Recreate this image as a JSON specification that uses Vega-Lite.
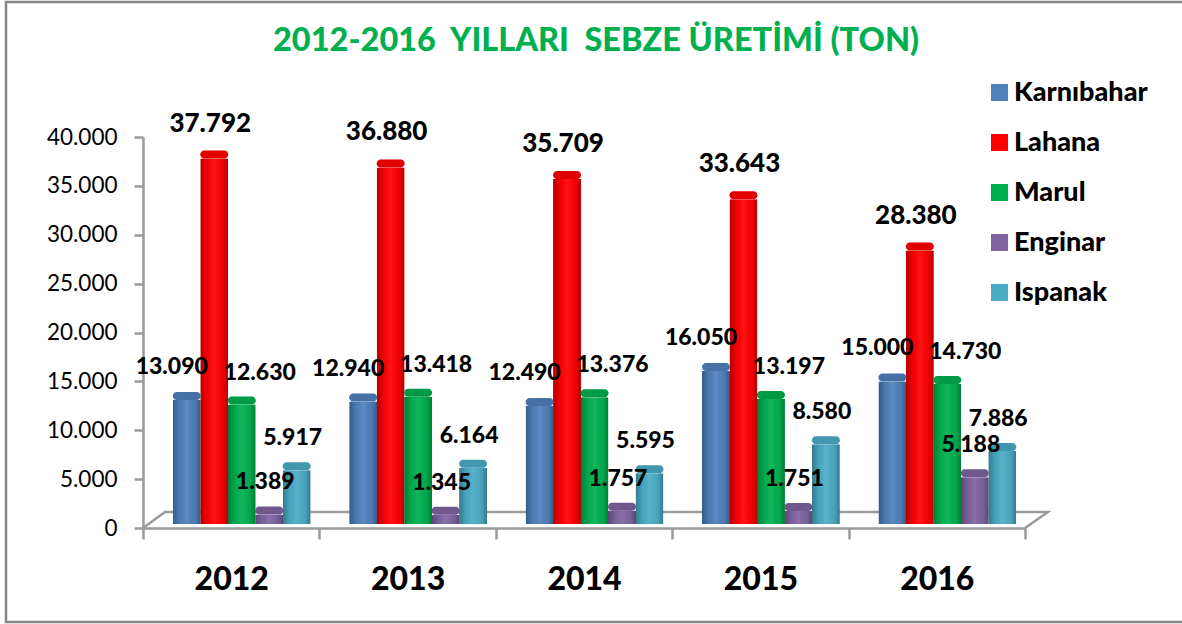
{"$schema":"https://vega.github.io/schema/vega-lite/v6.json","width":1190,"height":620,"padding":{"left":6,"top":2,"right":0,"bottom":2},"autosize":"none","background":"white",
"title":{"text":"2012-2016\u00a0\u00a0YILLARI\u00a0\u00a0SEBZE ÜRETİMİ (TON)","color":"#00B050","font":"Lato","fontWeight":900,"fontSize":32.5,"anchor":"start","dx":267,"offset":-55,"frame":"group"},
"config":{"view":{"stroke":"#868686","strokeWidth":2.5},"font":"Lato"},
"datasets":{"veg":[
{"y":"2012","s":"Karnıbahar","v":13090,"l":"13.090"},{"y":"2012","s":"Lahana","v":37792,"l":"37.792"},{"y":"2012","s":"Marul","v":12630,"l":"12.630"},{"y":"2012","s":"Enginar","v":1389,"l":"1.389"},{"y":"2012","s":"Ispanak","v":5917,"l":"5.917"},
{"y":"2013","s":"Karnıbahar","v":12940,"l":"12.940"},{"y":"2013","s":"Lahana","v":36880,"l":"36.880"},{"y":"2013","s":"Marul","v":13418,"l":"13.418"},{"y":"2013","s":"Enginar","v":1345,"l":"1.345"},{"y":"2013","s":"Ispanak","v":6164,"l":"6.164"},
{"y":"2014","s":"Karnıbahar","v":12490,"l":"12.490"},{"y":"2014","s":"Lahana","v":35709,"l":"35.709"},{"y":"2014","s":"Marul","v":13376,"l":"13.376"},{"y":"2014","s":"Enginar","v":1757,"l":"1.757"},{"y":"2014","s":"Ispanak","v":5595,"l":"5.595"},
{"y":"2015","s":"Karnıbahar","v":16050,"l":"16.050"},{"y":"2015","s":"Lahana","v":33643,"l":"33.643"},{"y":"2015","s":"Marul","v":13197,"l":"13.197"},{"y":"2015","s":"Enginar","v":1751,"l":"1.751"},{"y":"2015","s":"Ispanak","v":8580,"l":"8.580"},
{"y":"2016","s":"Karnıbahar","v":15000,"l":"15.000"},{"y":"2016","s":"Lahana","v":28380,"l":"28.380"},{"y":"2016","s":"Marul","v":14730,"l":"14.730"},{"y":"2016","s":"Enginar","v":5188,"l":"5.188"},{"y":"2016","s":"Ispanak","v":7886,"l":"7.886"}],
"floor":[{"i":0,"fx":0,"fy":0},{"i":1,"fx":2.5,"fy":1640},{"i":2,"fx":102.6,"fy":1640},{"i":3,"fx":100,"fy":0}]},
"resolve":{"scale":{"x":"independent"}},
"layer":[
{"data":{"name":"floor"},"mark":{"type":"line","color":"#9a9a9a","strokeWidth":2.5,"clip":false},"encoding":{"order":{"field":"i","type":"ordinal"},"x":{"field":"fx","type":"quantitative","scale":{"domain":[0,100],"range":[137,1019],"nice":false,"zero":false},"axis":null},"y":{"field":"fy","type":"quantitative","scale":{"domain":[0,40000],"range":[526,135],"nice":false},"axis":{"title":null,"offset":-137,"values":[0,5000,10000,15000,20000,25000,30000,35000,40000],"labelExpr":"replace(format(datum.value,','),',','.')","labelFont":"Lato","labelFontSize":22.5,"labelColor":"black","labelPadding":17,"grid":false,"domainColor":"#9a9a9a","domainWidth":2.5,"tickColor":"#9a9a9a","tickWidth":2.5,"tickSize":9}}}},
{"data":{"name":"veg"},
"encoding":{"x":{"field":"y","type":"nominal","scale":{"range":[137,1019],"paddingInner":0,"paddingOuter":0},"axis":{"title":null,"offset":-94,"labelAngle":0,"labelFont":"Lato","labelFontWeight":900,"labelFontSize":32,"labelColor":"black","labelPadding":25,"domainColor":"#9a9a9a","domainWidth":2.5,"tickColor":"#9a9a9a","tickWidth":2.5,"tickSize":11,"tickBand":"extent"}},
"xOffset":{"field":"s","sort":["Karnıbahar","Lahana","Marul","Enginar","Ispanak"],"scale":{"paddingInner":0,"paddingOuter":0.71,"align":0.77}},
"y":{"field":"v","type":"quantitative"}},
"layer":[
{"mark":{"type":"bar","width":28,"yOffset":-4,"cornerRadiusBottomLeft":5,"cornerRadiusBottomRight":5,"stroke":null},"encoding":{"color":{"field":"s","type":"nominal","scale":{"domain":["Karnıbahar","Lahana","Marul","Enginar","Ispanak"],"range":["#4F81BD","#FF0000","#00B050","#8064A2","#4BACC6"]},"legend":{"title":null,"orient":"none","legendX":980,"legendY":77,"labelFont":"Lato","labelFontWeight":900,"labelFontSize":27,"labelColor":"black","symbolType":"square","symbolSize":289,"symbolOpacity":1,"symbolStrokeWidth":0,"rowPadding":22,"labelOffset":1}}}},
{"mark":{"type":"bar","width":28,"yOffset":-4,"cornerRadiusBottomLeft":5,"cornerRadiusBottomRight":5,"stroke":null,"fill":{"gradient":"linear","x1":0,"y1":0,"x2":1,"y2":0,"stops":[{"offset":0,"color":"rgba(0,0,0,0.3)"},{"offset":0.25,"color":"rgba(0,0,0,0.05)"},{"offset":0.5,"color":"rgba(255,255,255,0.08)"},{"offset":0.8,"color":"rgba(0,0,0,0.05)"},{"offset":1,"color":"rgba(0,0,0,0.3)"}]}}},
{"mark":{"type":"tick","size":28,"thickness":8,"yOffset":-4,"cornerRadius":4,"opacity":1,"stroke":null},"encoding":{"color":{"field":"s","type":"nominal"}}},
{"mark":{"type":"tick","size":28,"thickness":8,"yOffset":-4,"cornerRadius":4,"color":"black","opacity":0.12,"stroke":null}},
{"transform":[{"filter":"datum.s==='Karnıbahar'"}],"mark":{"type":"text","fontWeight":900,"fontSize":23,"font":"Lato","dy":-33,"dx":-15,"color":"black"},"encoding":{"text":{"field":"l","type":"nominal"}}},
{"transform":[{"filter":"datum.s==='Lahana'"}],"mark":{"type":"text","fontWeight":900,"fontSize":26,"font":"Lato","dy":-35,"dx":-4,"color":"black"},"encoding":{"text":{"field":"l","type":"nominal"}}},
{"transform":[{"filter":"datum.s==='Marul'"}],"mark":{"type":"text","fontWeight":900,"fontSize":23,"font":"Lato","dy":-32,"dx":18,"color":"black"},"encoding":{"text":{"field":"l","type":"nominal"}}},
{"transform":[{"filter":"datum.s==='Enginar' || datum.s==='Ispanak'"}],"mark":{"type":"text","fontWeight":900,"fontSize":23,"font":"Lato","dy":-32,"dx":-4,"color":"black"},"encoding":{"text":{"field":"l","type":"nominal"}}}
]}
]}
